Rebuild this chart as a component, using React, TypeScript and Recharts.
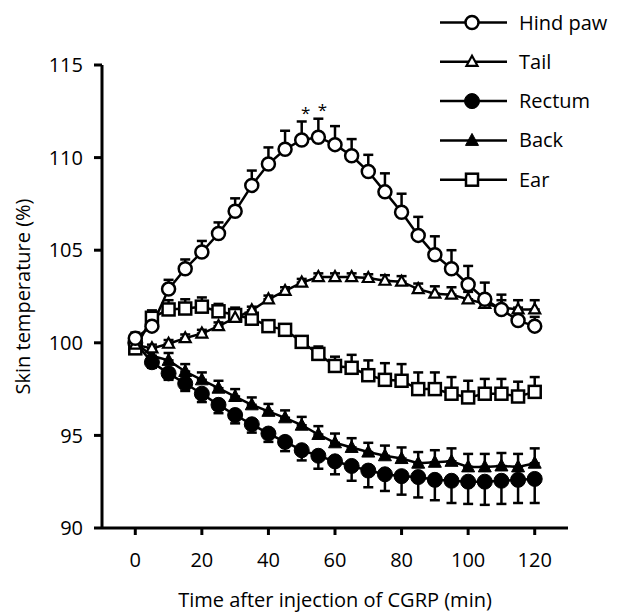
import React from 'react';
import { LineChart, Line, XAxis, YAxis, ErrorBar, LabelList, Label } from 'recharts';

// minutes after injection
const time = [0, 5, 10, 15, 20, 25, 30, 35, 40, 45, 50, 55, 60, 65, 70, 75, 80, 85, 90, 95, 100, 105, 110, 115, 120];

const hindPaw = [100.25, 100.9, 102.9, 104.0, 104.9, 105.9, 107.1, 108.5, 109.65, 110.45, 110.95, 111.1, 110.7, 110.1, 109.25, 108.15, 107.05, 105.8, 104.75, 104.0, 103.15, 102.35, 101.8, 101.2, 100.9];
const hindPawSem = [0.3, 0.4, 0.5, 0.5, 0.6, 0.6, 0.7, 0.8, 0.9, 1.0, 1.0, 1.0, 1.0, 0.9, 0.9, 1.0, 1.0, 1.0, 1.0, 1.0, 1.0, 0.9, 0.8, 0.7, 0.5];

const tail = [99.9, 99.7, 99.95, 100.25, 100.5, 100.9, 101.35, 101.75, 102.35, 102.8, 103.25, 103.55, 103.55, 103.55, 103.5, 103.35, 103.3, 102.9, 102.65, 102.6, 102.35, 102.1, 101.9, 101.8, 101.8];
const tailSem = [0.2, 0.2, 0.2, 0.2, 0.2, 0.2, 0.2, 0.2, 0.2, 0.2, 0.2, 0.2, 0.2, 0.2, 0.2, 0.3, 0.3, 0.3, 0.4, 0.4, 0.4, 0.4, 0.4, 0.5, 0.5];

const rectum = [100.0, 98.95, 98.35, 97.8, 97.25, 96.65, 96.1, 95.6, 95.1, 94.65, 94.2, 93.9, 93.6, 93.35, 93.1, 92.9, 92.8, 92.75, 92.6, 92.55, 92.5, 92.5, 92.55, 92.6, 92.65];
const rectumSem = [0.2, 0.3, 0.35, 0.4, 0.45, 0.45, 0.45, 0.45, 0.45, 0.5, 0.55, 0.7, 0.7, 0.8, 0.9, 0.9, 1.0, 1.1, 1.1, 1.2, 1.2, 1.25, 1.25, 1.25, 1.3];

const back = [100.0, 99.3, 99.05, 98.45, 98.0, 97.55, 97.1, 96.65, 96.3, 95.95, 95.55, 95.05, 94.6, 94.35, 94.1, 93.9, 93.75, 93.5, 93.55, 93.6, 93.3, 93.3, 93.35, 93.3, 93.5];
const backSem = [0.2, 0.3, 0.4, 0.4, 0.4, 0.4, 0.4, 0.4, 0.4, 0.4, 0.45, 0.45, 0.5, 0.5, 0.5, 0.55, 0.6, 0.6, 0.65, 0.7, 0.7, 0.7, 0.7, 0.7, 0.8];

const ear = [99.7, 101.35, 101.8, 101.85, 101.95, 101.7, 101.5, 101.3, 100.9, 100.7, 100.05, 99.4, 98.75, 98.65, 98.25, 98.0, 97.95, 97.5, 97.5, 97.25, 97.05, 97.25, 97.25, 97.1, 97.35];
const earSem = [0.2, 0.4, 0.5, 0.5, 0.5, 0.4, 0.4, 0.3, 0.3, 0.3, 0.3, 0.4, 0.5, 0.7, 0.8, 0.9, 0.9, 0.9, 0.9, 0.9, 0.9, 0.8, 0.8, 0.8, 0.8];

// time points marked with an asterisk (hind paw)
const significant = [50, 55];

const xTicks = [0, 20, 40, 60, 80, 100, 120];
const yTicks = [90, 95, 100, 105, 110, 115];

const data = time.map((t, i) => ({
  time: t,
  hindPaw: hindPaw[i],
  hindPawSem: hindPawSem[i],
  tail: tail[i],
  tailSem: tailSem[i],
  rectum: rectum[i],
  rectumSem: rectumSem[i],
  back: back[i],
  backSem: backSem[i],
  ear: ear[i],
  earSem: earSem[i],
  sig: significant.includes(t) ? '*' : '',
}));

type Kind = 'openCircle' | 'openTriangle' | 'circle' | 'triangle' | 'openSquare';

const FONT = "'Open Sans', sans-serif";

function marker(kind: Kind, cx: number, cy: number, key?: string) {
  switch (kind) {
    case 'openCircle':
      return <circle key={key} cx={cx} cy={cy} r={6.5} fill="#fff" stroke="#000" strokeWidth={2.5} />;
    case 'circle':
      return <circle key={key} cx={cx} cy={cy} r={7.5} fill="#000" stroke="#000" strokeWidth={1} />;
    case 'openTriangle':
      return (
        <path key={key} d={`M${cx},${cy - 6} L${cx + 5.5},${cy + 4} L${cx - 5.5},${cy + 4} Z`}
          fill="#fff" stroke="#000" strokeWidth={2.2} strokeLinejoin="miter" />
      );
    case 'triangle':
      return (
        <path key={key} d={`M${cx},${cy - 7} L${cx + 6.5},${cy + 5} L${cx - 6.5},${cy + 5} Z`}
          fill="#000" stroke="#000" strokeWidth={1} />
      );
    case 'openSquare':
      return <rect key={key} x={cx - 6} y={cy - 6} width={12} height={12} fill="#fff" stroke="#000" strokeWidth={2.5} />;
  }
}

const dotOf = (kind: Kind, name: string) => (props: any) =>
  marker(kind, props.cx, props.cy, `${name}-${props.index}`);

const legendItems: { label: string; kind: Kind }[] = [
  { label: 'Hind paw', kind: 'openCircle' },
  { label: 'Tail', kind: 'openTriangle' },
  { label: 'Rectum', kind: 'circle' },
  { label: 'Back', kind: 'triangle' },
  { label: 'Ear', kind: 'openSquare' },
];

const up = (key: string) => (d: any) => [0, d[key]];
const down = (key: string) => (d: any) => [d[key], 0];

const Stars = (props: any) => {
  const { x, y, value } = props;
  if (!value) return null;
  return (
    <text x={x + 4} y={y - 21} textAnchor="middle" fontSize={17} fontFamily={FONT} fill="#000">
      {value}
    </text>
  );
};

const App: React.FC = () => {
  const axisStyle = { stroke: '#000', strokeWidth: 3 };
  const tickStyle = { fill: '#000', fontSize: 20, fontFamily: FONT };
  return (
    <div style={{ position: 'absolute', left: 0, top: 0, width: 628, height: 615, background: '#fff' }}>
      <LineChart width={628} height={615} data={data} margin={{ top: 65, right: 60, bottom: 0, left: 0 }}>
        <XAxis
          dataKey="time"
          type="number"
          domain={[-10, 130]}
          ticks={xTicks}
          height={87}
          axisLine={axisStyle}
          tickLine={axisStyle}
          tickSize={7}
          tickMargin={18}
          tick={tickStyle}
        >
          <Label
            content={({ viewBox }: any) => (
              <text x={viewBox.x + viewBox.width / 2} y={607} textAnchor="middle" fontSize={20} fontFamily={FONT} fill="#000">
                Time after injection of CGRP (min)
              </text>
            )}
          />
        </XAxis>
        <YAxis
          type="number"
          domain={[90, 115]}
          ticks={yTicks}
          width={102}
          axisLine={axisStyle}
          tickLine={axisStyle}
          tickSize={8}
          tickMargin={11}
          tick={tickStyle}
        >
          <Label
            content={({ viewBox }: any) => {
              const cy = viewBox.y + viewBox.height / 2;
              return (
                <text x={30} y={cy} transform={`rotate(-90 30 ${cy})`} textAnchor="middle" fontSize={20} fontFamily={FONT} fill="#000">
                  Skin temperature (%)
                </text>
              );
            }}
          />
        </YAxis>

        <Line dataKey="rectum" stroke="#000" strokeWidth={2.5} dot={dotOf('circle', 'rectum')} activeDot={false} isAnimationActive={false}>
          <ErrorBar dataKey={down('rectumSem')} direction="y" width={5} stroke="#000" strokeWidth={2.5} />
        </Line>
        <Line dataKey="back" stroke="#000" strokeWidth={2.5} dot={dotOf('triangle', 'back')} activeDot={false} isAnimationActive={false}>
          <ErrorBar dataKey={up('backSem')} direction="y" width={5} stroke="#000" strokeWidth={2.5} />
        </Line>
        <Line dataKey="ear" stroke="#000" strokeWidth={2.5} dot={dotOf('openSquare', 'ear')} activeDot={false} isAnimationActive={false}>
          <ErrorBar dataKey={up('earSem')} direction="y" width={5} stroke="#000" strokeWidth={2.5} />
        </Line>
        <Line dataKey="tail" stroke="#000" strokeWidth={2.5} dot={dotOf('openTriangle', 'tail')} activeDot={false} isAnimationActive={false}>
          <ErrorBar dataKey={up('tailSem')} direction="y" width={5} stroke="#000" strokeWidth={2.5} />
        </Line>
        <Line dataKey="hindPaw" stroke="#000" strokeWidth={2.5} dot={dotOf('openCircle', 'hindPaw')} activeDot={false} isAnimationActive={false}>
          <ErrorBar dataKey={up('hindPawSem')} direction="y" width={5} stroke="#000" strokeWidth={2.5} />
          <LabelList dataKey="sig" content={Stars} />
        </Line>
      </LineChart>

      <svg width={628} height={200} style={{ position: 'absolute', left: 0, top: 0, pointerEvents: 'none' }}>
        {legendItems.map((item, i) => {
          const y = 22.5 + i * 39.3;
          return (
            <g key={item.label}>
              <line x1={440} x2={507} y1={y} y2={y} stroke="#000" strokeWidth={2.5} />
              {marker(item.kind, 472, y)}
              <text x={519} y={y + 7} fontSize={20} fontFamily={FONT} fill="#000">
                {item.label}
              </text>
            </g>
          );
        })}
      </svg>
    </div>
  );
};

export default App;
